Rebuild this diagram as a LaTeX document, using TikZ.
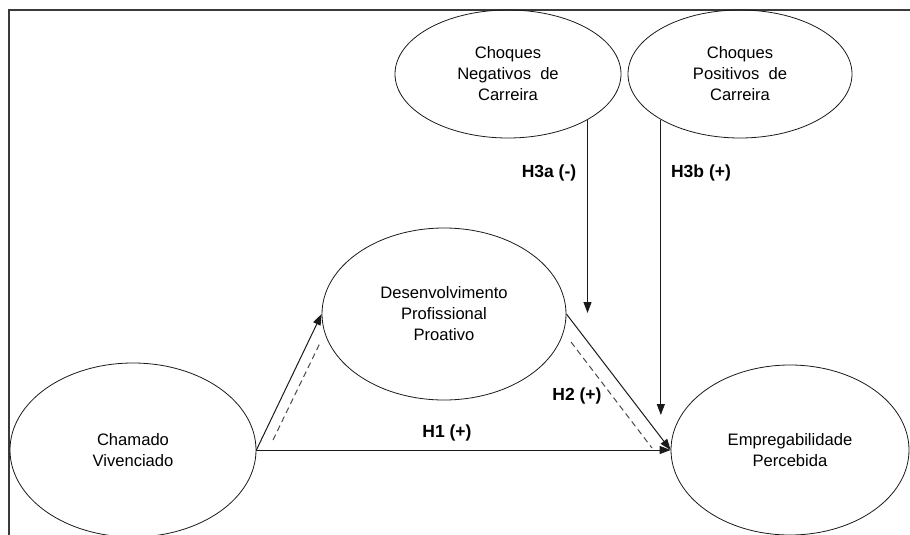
\documentclass[tikz,border=0pt]{standalone}
\usepackage{fontspec}
\setmainfont{Liberation Sans}
\usepackage{tikz}
\usetikzlibrary{positioning,shapes.geometric,arrows.meta}
\definecolor{FrameGray}{HTML}{3A3A3A}
\definecolor{LineDark}{HTML}{1A1A1A}
\tikzset{
  cnode/.style={ellipse,draw=LineDark,line width=0.8pt,inner sep=0pt,
    font=\fontsize{16.6}{21}\selectfont,align=center},
  hlabel/.style={font=\fontsize{17.5}{20}\selectfont\bfseries,inner sep=1pt},
  edgeA/.style={line width=1pt,draw=LineDark,
    -{Triangle[length=11pt,width=8pt]}},
  edgeD/.style={line width=1pt,draw=LineDark!80,dash pattern=on 6pt off 4pt},
}

\begin{document}
\begin{tikzpicture}[x=1pt,y=-1pt]
  \useasboundingbox (0,0) rectangle (910,535);
  \draw[FrameGray,line width=1.3pt] (9,535) -- (9,10) -- (910,10);
  % constructs
  \node[cnode,minimum width=246pt,minimum height=174pt] (chamado) at (133,450) {Chamado\\Vivenciado};
  \node[cnode,minimum width=244pt,minimum height=172pt] (desenv) at (444,314) {Desenvolvimento\\Profissional\\Proativo};
  \node[cnode,minimum width=238pt,minimum height=170pt] (empreg) at (790,450) {Empregabilidade\\Percebida};
  \node[cnode,minimum width=226pt,minimum height=128pt] (choqneg) at (508,74) {Choques\\Negativos~ de\\Carreira};
  \node[cnode,minimum width=224pt,minimum height=128pt] (choqpos) at (740,74) {Choques\\Positivos~ de\\Carreira};
  % free ends
  \coordinate (h3atip) at (587,313);
  \coordinate (h3btip) at (661,415);
  \coordinate (m1a) at (273,440);
  \coordinate (m1b) at (320,343);
  \coordinate (m2a) at (571,342);
  \coordinate (m2b) at (652,448);
  % paths
  \draw[edgeA] (chamado.east) -- (desenv.west);
  \draw[edgeA] (desenv.east) -- (empreg.west);
  \draw[edgeA] (chamado.east) -- (empreg.west);
  \draw[edgeA] (choqneg.-30) -- (choqneg.-30 |- h3atip);
  \draw[edgeA] (choqpos.-150) -- (choqpos.-150 |- h3btip);
  \draw[edgeD] (m1a) -- (m1b);
  \draw[edgeD] (m2a) -- (m2b);
  % hypotheses
  \node[hlabel] (h1) at (447,433) {H1 (+)};
  \node[hlabel] (h2) at (577,396) {H2 (+)};
  \node[hlabel] (h3a) at (549,173) {H3a (-)};
  \node[hlabel] (h3b) at (701,173) {H3b (+)};
\end{tikzpicture}
\end{document}
